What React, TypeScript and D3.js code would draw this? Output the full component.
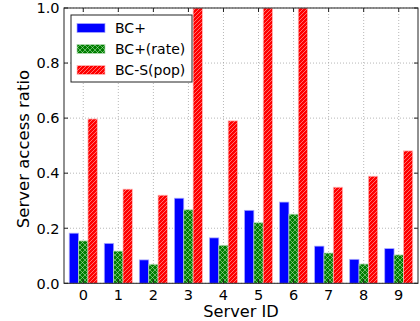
import React, { useRef, useEffect } from 'react';
import * as d3 from 'd3';

const servers = ['0', '1', '2', '3', '4', '5', '6', '7', '8', '9'];
const bcPlus = [0.182, 0.145, 0.085, 0.309, 0.165, 0.265, 0.295, 0.135, 0.087, 0.126];
const bcPlusRate = [0.154, 0.117, 0.069, 0.267, 0.138, 0.22, 0.251, 0.11, 0.07, 0.103];
const bcSPop = [0.597, 0.342, 0.32, 1.0, 0.59, 1.0, 1.0, 0.349, 0.389, 0.481];
const seriesNames = ['BC+', 'BC+(rate)', 'BC-S(pop)'];
const yTicks = [0, 0.2, 0.4, 0.6, 0.8, 1.0];

const App = () => {
  const ref = useRef<HTMLDivElement>(null);

  useEffect(() => {
    if (!ref.current) return;
    d3.select(ref.current).select('svg').remove();

    const W = 420, H = 321;
    const left = 64, right = 418, top = 8, bottom = 283.3;
    const font = 'DejaVu Sans';

    const svg = d3.select(ref.current)
      .append('svg')
      .attr('width', W)
      .attr('height', H)
      .style('position', 'absolute')
      .style('left', '0px')
      .style('top', '0px')
      .style('background', '#fff');

    const defs = svg.append('defs');
    // red diagonal hatch
    const pr = defs.append('pattern')
      .attr('id', 'hatchRed')
      .attr('patternUnits', 'userSpaceOnUse')
      .attr('width', 4).attr('height', 4);
    pr.append('rect').attr('width', 4).attr('height', 4).attr('fill', '#ff0000');
    pr.append('path')
      .attr('d', 'M-1,1 l2,-2 M0,4 l4,-4 M3,5 l2,-2')
      .attr('stroke', 'rgba(255,210,210,0.75)').attr('stroke-width', 0.7);
    // green cross hatch
    const pg = defs.append('pattern')
      .attr('id', 'hatchGreen')
      .attr('patternUnits', 'userSpaceOnUse')
      .attr('width', 5).attr('height', 5);
    pg.append('rect').attr('width', 5).attr('height', 5).attr('fill', '#007f00');
    pg.append('path')
      .attr('d', 'M0,0 L5,5 M5,0 L0,5')
      .attr('stroke', 'rgba(190,230,190,0.75)').attr('stroke-width', 0.7);
    defs.append('clipPath').attr('id', 'plotClip')
      .append('rect').attr('x', left).attr('y', top).attr('width', right - left).attr('height', bottom - top);

    const x = d3.scaleLinear().domain([-0.55, 9.55]).range([left, right]);
    const y = d3.scaleLinear().domain([0, 1]).range([bottom, top]);

    const fills = ['#0000ff', 'url(#hatchGreen)', 'url(#hatchRed)'];
    const edges = ['rgba(170,170,255,0.9)', 'rgba(180,220,180,0.9)', 'rgba(255,190,190,0.9)'];
    const series = [bcPlus, bcPlusRate, bcSPop];
    const bw = 0.8 / 3;

    // grid
    const grid = svg.append('g');
    servers.forEach((_, i) => {
      grid.append('line')
        .attr('x1', x(i)).attr('x2', x(i)).attr('y1', top).attr('y2', bottom)
        .attr('stroke', '#999').attr('stroke-width', 0.7).attr('stroke-dasharray', '1,2');
    });
    yTicks.forEach(t => {
      grid.append('line')
        .attr('x1', left).attr('x2', right).attr('y1', y(t)).attr('y2', y(t))
        .attr('stroke', '#999').attr('stroke-width', 0.7).attr('stroke-dasharray', '1,2');
    });

    // bars
    const bars = svg.append('g').attr('clip-path', 'url(#plotClip)');
    series.forEach((vals, s) => {
      bars.selectAll(null)
        .data(vals)
        .enter()
        .append('rect')
        .attr('x', (d, i) => x(i - 0.4 + s * bw))
        .attr('width', x(bw) - x(0))
        .attr('y', d => y(d))
        .attr('height', d => y(0) - y(d))
        .attr('fill', fills[s])
        .attr('stroke', edges[s])
        .attr('stroke-width', 0.8);
    });

    // spines
    svg.append('rect')
      .attr('x', left).attr('y', top).attr('width', right - left).attr('height', bottom - top)
      .attr('fill', 'none').attr('stroke', '#222').attr('stroke-width', 1);

    // ticks (inward, all sides)
    const ticks = svg.append('g').attr('stroke', '#222').attr('stroke-width', 1);
    servers.forEach((_, i) => {
      ticks.append('line').attr('x1', x(i)).attr('x2', x(i)).attr('y1', bottom).attr('y2', bottom - 4);
      ticks.append('line').attr('x1', x(i)).attr('x2', x(i)).attr('y1', top).attr('y2', top + 4);
    });
    yTicks.forEach(t => {
      ticks.append('line').attr('x1', left).attr('x2', left + 4).attr('y1', y(t)).attr('y2', y(t));
      ticks.append('line').attr('x1', right).attr('x2', right - 4).attr('y1', y(t)).attr('y2', y(t));
    });

    // tick labels
    svg.append('g').selectAll('text')
      .data(servers).enter().append('text')
      .attr('x', (d, i) => x(i)).attr('y', 299.5)
      .attr('text-anchor', 'middle')
      .attr('font-family', font).attr('font-size', 14.5).attr('fill', '#000')
      .text(d => d);
    svg.append('g').selectAll('text')
      .data(yTicks).enter().append('text')
      .attr('x', left - 4.5).attr('y', d => y(d) + 5.3)
      .attr('text-anchor', 'end')
      .attr('font-family', font).attr('font-size', 14.5).attr('fill', '#000')
      .text(d => d.toFixed(1));

    // axis labels
    svg.append('text')
      .attr('x', (left + right) / 2).attr('y', 317)
      .attr('text-anchor', 'middle')
      .attr('font-family', font).attr('font-size', 16.2)
      .text('Server ID');
    svg.append('text')
      .attr('transform', `translate(29,149) rotate(-90)`)
      .attr('text-anchor', 'middle')
      .attr('font-family', font).attr('font-size', 16.5)
      .text('Server access ratio');

    // legend
    const lg = svg.append('g');
    lg.append('rect')
      .attr('x', 71).attr('y', 15).attr('width', 121).attr('height', 67)
      .attr('fill', '#fff').attr('stroke', '#222').attr('stroke-width', 1);
    seriesNames.forEach((name, s) => {
      const cy = 28 + s * 21;
      lg.append('rect')
        .attr('x', 77).attr('y', cy - 4.5).attr('width', 28).attr('height', 9)
        .attr('fill', fills[s]).attr('stroke', edges[s]).attr('stroke-width', 0.8);
      lg.append('text')
        .attr('x', 115).attr('y', cy + 5)
        .attr('font-family', font).attr('font-size', 14)
        .text(name);
    });
  }, []);

  return <div className="chart-container" ref={ref}></div>;
};

export default App;
